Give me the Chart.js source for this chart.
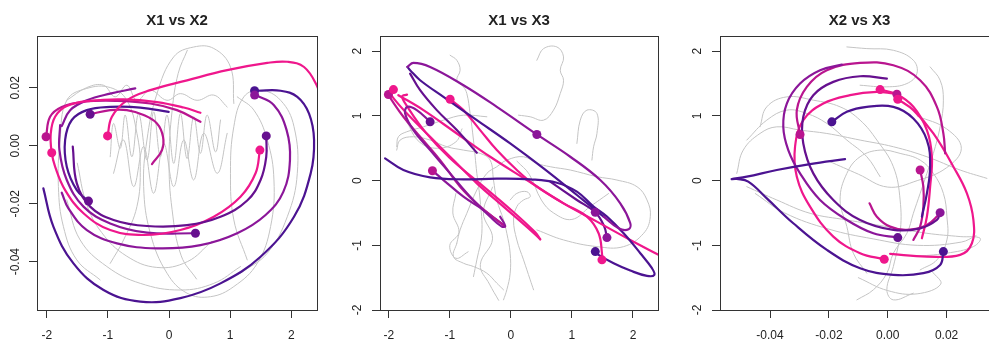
<!DOCTYPE html>
<html>
<head>
<meta charset="utf-8">
<script src="https://cdn.jsdelivr.net/npm/chart.js@4.4.1/dist/chart.umd.min.js"></script>
<style>
  html, body { margin: 0; padding: 0; background: #fff; }
  body { width: 989px; height: 342px; overflow: hidden; position: relative; }
  canvas { position: absolute; top: 0; }
</style>
</head>
<body>
<canvas id="p1" width="343" height="342" style="left:0px"></canvas>
<canvas id="p2" width="343" height="342" style="left:343px"></canvas>
<canvas id="p3" width="343" height="342" style="left:683px"></canvas>
<script>
// tick marks and their labels
const x1Ticks = [-2, -1, 0, 1, 2];
const x1Labels = ['-2', '-1', '0', '1', '2'];
const x2Ticks = [-0.04, -0.02, 0, 0.02];
const x2Labels = ['-0.04', '-0.02', '0.00', '0.02'];
const x3Ticks = [-2, -1, 0, 1, 2];
const x3Labels = ['-2', '-1', '0', '1', '2'];

// ---- X1 vs X2 ----
const p1Indigo = [[-2.055,-0.0147],[-1.891,-0.0279],[-1.563,-0.0406],[-1.071,-0.0498],[-0.470,-0.0538],[0.186,-0.0526],[0.842,-0.0475],[1.497,-0.0383],[2.044,-0.0245],[2.317,-0.0095],[2.372,0.0020],[2.290,0.0111],[2.098,0.0169],[1.825,0.0190],[1.470,0.0190],[1.400,0.0188]];
const p1Purple = [[1.415,0.0175],[1.716,0.0140],[1.923,0.0054],[1.978,-0.0049],[1.869,-0.0159],[1.579,-0.0239],[1.115,-0.0302],[0.514,-0.0343],[-0.197,-0.0354],[-0.852,-0.0337],[-1.344,-0.0291],[-1.645,-0.0216],[-1.754,-0.0162]];
const p1DarkPurple = [[1.590,0.0034],[1.590,-0.0038],[1.497,-0.0118],[1.279,-0.0189],[0.842,-0.0245],[0.295,-0.0274],[-0.361,-0.0277],[-0.907,-0.0256],[-1.290,-0.0210],[-1.508,-0.0130],[-1.574,-0.0003]];
const p1Pink = [[1.486,-0.0015],[1.415,-0.0095],[1.169,-0.0176],[0.732,-0.0245],[0.186,-0.0291],[-0.415,-0.0308],[-0.962,-0.0291],[-1.399,-0.0233],[-1.699,-0.0153],[-1.863,-0.0072],[-1.918,-0.0024],[-1.934,0.0043],[-1.863,0.0100],[-1.672,0.0137],[-1.290,0.0155],[-0.743,0.0160],[-0.197,0.0151],[0.240,0.0132],[0.514,0.0114]];
const p1Magenta = [[-2.011,0.0031],[-1.945,0.0100],[-1.754,0.0134],[-1.399,0.0152],[-0.852,0.0155],[-0.306,0.0146],[0.131,0.0123],[0.514,0.0083]];
const p1Violet = [[-1.781,0.0071],[-1.792,-0.0015],[-1.672,-0.0118],[-1.399,-0.0210],[-0.962,-0.0268],[-0.361,-0.0300],[0.432,-0.0302]];
const p1PinkTop = [[-1.005,0.0034],[-0.934,0.0100],[-0.689,0.0157],[-0.306,0.0192],[0.295,0.0226],[0.951,0.0261],[1.607,0.0286],[1.934,0.0290],[2.208,0.0272],[2.415,0.0209],[2.500,0.0150]];
const p1Hook = [[-0.279,-0.0063],[-0.115,-0.0015],[-0.098,0.0031],[-0.197,0.0077],[-0.415,0.0106],[-0.689,0.0123],[-0.962,0.0123],[-1.290,0.0109]];
const p1Inner = [[-0.005,0.0117],[-0.470,0.0132],[-0.962,0.0134],[-1.344,0.0123],[-1.590,0.0089],[-1.699,0.0020],[-1.672,-0.0072],[-1.508,-0.0153],[-1.317,-0.0191]];
const p1Short = [[-1.754,0.0068],[-1.617,0.0123],[-1.344,0.0157],[-0.962,0.0180],[-0.552,0.0198]];
const p1Dots = [[1.399,0.0190],[1.400,0.0175],[1.590,0.0034],[1.486,-0.0015],[0.432,-0.0302],[-1.317,-0.0191],[-1.290,0.0109],[-2.011,0.0031],[-1.918,-0.0024],[-1.005,0.0034]];
const p1Grey = [
  [[1.060,0.0146],[1.005,0.0272],[0.732,0.0336],[0.404,0.0341],[0.077,0.0307],[-0.197,0.0180],[-0.361,0.0020],[-0.415,-0.0141],[-0.306,-0.0302],[-0.033,-0.0440],[0.295,-0.0509],[0.678,-0.0521],[1.060,-0.0486],[1.443,-0.0406],[1.661,-0.0279],[1.716,-0.0118],[1.607,0.0020],[1.388,0.0123],[1.115,0.0169]],
  [[-1.126,-0.0463],[-1.508,-0.0394],[-1.727,-0.0279],[-1.809,-0.0141],[-1.781,0.0020],[-1.672,0.0157],[-1.344,0.0198],[-0.962,0.0201],[-0.689,0.0157],[-0.525,0.0043],[-0.470,-0.0072],[-0.525,-0.0210],[-0.743,-0.0325],[-0.962,-0.0406]],
  [[-0.962,-0.0038],[-0.907,0.0077],[-0.798,-0.0009],[-0.716,0.0106],[-0.607,-0.0038],[-0.497,0.0111],[-0.361,-0.0049],[-0.251,0.0117],[-0.142,-0.0038],[-0.033,0.0106],[0.077,-0.0061],[0.186,0.0111],[0.295,-0.0044],[0.404,0.0100],[0.514,-0.0026],[0.623,0.0106],[0.760,-0.0021],[0.842,0.0089]],
  [[-1.672,0.0157],[-1.344,0.0201],[-1.071,0.0209],[-0.880,0.0169],[-0.689,0.0209],[-0.525,0.0157],[-0.306,0.0192],[-0.033,0.0157],[0.186,0.0180],[0.459,0.0157],[0.732,0.0175],[0.951,0.0134]],
  [[-0.907,-0.0095],[-0.743,0.0020],[-0.579,-0.0141],[-0.415,-0.0003],[-0.251,-0.0164],[-0.088,0.0008],[0.077,-0.0141],[0.240,0.0020],[0.404,-0.0118],[0.568,0.0043],[0.787,-0.0095],[0.951,0.0043]],
  [[1.169,-0.0440],[1.607,-0.0371],[1.934,-0.0245],[2.098,-0.0095],[2.044,0.0066],[1.825,0.0157],[1.497,0.0192],[1.224,0.0169],[1.060,0.0066],[1.005,-0.0095],[1.060,-0.0256],[1.279,-0.0394]],
  [[-1.672,-0.0187],[-1.454,-0.0325],[-1.016,-0.0417],[-0.470,-0.0475],[0.186,-0.0498],[0.732,-0.0475],[1.169,-0.0417]],
  [[-1.500,-0.0060],[-1.350,-0.0200],[-1.100,-0.0300],[-0.700,-0.0380],[-0.200,-0.0420],[0.300,-0.0400],[0.700,-0.0330]],
  [[0.300,0.0330],[0.150,0.0250],[0.050,0.0120],[0.000,-0.0050],[0.050,-0.0220],[0.200,-0.0380],[0.450,-0.0460]]
];

// ---- X1 vs X3 ----
const p2PurpleLoop = [[-1.694,1.758],[-1.596,1.820],[-1.322,1.758],[-0.776,1.475],[-0.230,1.141],[0.426,0.714],[0.973,0.369],[1.464,0.009],[1.792,-0.351],[1.956,-0.659],[1.929,-0.752],[1.765,-0.737],[1.519,-0.557]];
const p2IndigoLoop = [[1.519,-0.557],[1.082,-0.222],[0.536,0.189],[-0.011,0.575],[-0.557,0.935],[-1.104,1.295],[-1.486,1.552],[-1.650,1.707],[-1.694,1.758]];
const p2DarkLine = [[-1.650,1.655],[-1.486,1.398],[-1.213,1.090],[-0.885,0.781],[-0.557,0.431]];
const p2Indigo = [[-2.060,0.344],[-1.760,0.164],[-1.322,0.050],[-0.776,0.020],[-0.230,0.030],[0.317,0.020],[0.754,-0.032],[1.082,-0.171],[1.355,-0.402],[1.574,-0.557],[1.847,-0.814],[2.120,-1.122],[2.311,-1.354],[2.350,-1.457],[2.230,-1.473],[1.956,-1.390],[1.683,-1.277],[1.437,-1.148],[1.383,-1.097]];
const p2LeftLoop = [[-1.322,0.909],[-1.541,1.090],[-1.694,1.141],[-1.732,1.038],[-1.596,0.781],[-1.322,0.472],[-0.995,0.112],[-0.667,-0.248],[-0.339,-0.557],[-0.148,-0.711],[-0.093,-0.701],[-0.175,-0.557]];
const p2Magenta = [[-2.005,1.331],[-1.951,1.244],[-1.760,0.987],[-1.486,0.678],[-1.158,0.318],[-0.831,-0.094],[-0.503,-0.402],[-0.175,-0.649],[-0.093,-0.711]];
const p2Pink = [[-1.923,1.424],[-1.978,1.372],[-1.896,1.244],[-1.650,0.987],[-1.322,0.678],[-0.940,0.318],[-0.557,-0.042],[-0.120,-0.402],[0.317,-0.762],[0.481,-0.906]];
const p2PinkBack = [[0.481,-0.906],[0.400,-0.800],[0.000,-0.450],[-0.500,-0.050],[-1.000,0.350],[-1.400,0.750],[-1.700,1.150],[-1.780,1.300],[-1.700,1.330]];
const p2PinkLong = [[-1.842,1.321],[-1.432,1.090],[-0.885,0.729],[-0.339,0.369],[0.262,0.009],[0.863,-0.351],[1.410,-0.634],[1.956,-0.917],[2.421,-1.148]];
const p2PinkMid = [[-0.995,1.259],[-0.776,1.090],[-0.503,0.781],[-0.230,0.472],[0.098,0.164],[0.426,-0.094],[0.863,-0.351],[1.246,-0.557],[1.437,-0.814],[1.492,-1.122],[1.492,-1.225]];
const p2Violet = [[-1.284,0.153],[-1.104,0.009],[-0.776,-0.248],[-0.448,-0.454],[-0.230,-0.608],[-0.120,-0.685]];
const p2DarkRight = [[0.645,-0.016],[1.082,-0.299],[1.383,-0.490],[1.530,-0.711],[1.574,-0.881]];
const p2Dots = [[-2.005,1.331],[-1.923,1.408],[-0.995,1.259],[-1.322,0.909],[0.426,0.714],[-1.284,0.153],[1.383,-0.490],[1.574,-0.881],[1.383,-1.097],[1.492,-1.225]];
const p2Grey = [
  [[-0.995,1.938],[-0.885,1.861],[-0.831,1.707],[-0.885,1.552],[-0.776,1.450],[-0.721,1.347],[-0.667,1.038],[-0.612,0.627],[-0.557,0.112],[-0.503,-0.299],[-0.475,-0.814],[-0.557,-1.225],[-0.612,-1.483]],
  [[0.426,1.861],[0.536,2.041],[0.754,2.067],[0.863,1.913],[0.809,1.707],[0.863,1.552],[0.809,1.347],[0.699,1.090],[0.536,0.935],[0.317,0.987],[0.126,1.012]],
  [[1.082,0.575],[1.137,0.935],[1.246,1.090],[1.410,1.038],[1.410,0.729],[1.355,0.524],[1.328,0.318]],
  [[-1.869,0.472],[-1.814,0.627],[-1.596,0.678],[-1.322,0.627],[-1.049,0.524],[-0.776,0.472],[-0.503,0.421],[-0.339,0.318],[-0.284,0.009],[-0.230,-0.299],[-0.120,-0.608],[-0.066,-0.814],[-0.011,-1.122],[-0.011,-1.431],[-0.066,-1.688],[-0.120,-1.843]],
  [[-0.011,-0.299],[0.098,-0.197],[0.262,-0.171],[0.317,-0.248],[0.208,-0.299],[0.098,-0.402],[0.044,-0.608],[0.098,-0.917],[0.208,-1.225],[0.317,-1.534],[0.372,-1.688]],
  [[-0.885,-0.968],[-0.831,-0.762],[-0.721,-0.505],[-0.557,-0.145],[-0.393,0.112],[-0.230,0.215],[-0.066,0.318],[0.208,0.369],[0.426,0.267],[0.645,0.215],[0.973,0.164],[1.410,0.061],[1.738,0.009],[2.066,-0.094],[2.230,-0.299],[2.284,-0.557],[2.175,-0.814],[1.847,-1.020],[1.410,-1.020],[0.863,-0.917],[0.426,-0.762]],
  [[-0.885,-0.968],[-0.940,-1.174],[-0.776,-1.277],[-0.612,-1.328],[-0.393,-1.431],[-0.230,-1.585],[-0.120,-1.688]],
  [[-1.869,0.524],[-1.842,0.678],[-1.705,0.755],[-1.432,0.832],[-1.104,0.935],[-0.776,1.012],[-0.393,0.987]],
  [[-0.900,-0.200],[-0.950,-0.500],[-0.850,-0.800],[-1.000,-1.000],[-0.900,-1.200],[-0.700,-1.100]],
  [[-0.300,-0.100],[-0.450,-0.500],[-0.300,-0.900],[-0.500,-1.300],[-0.350,-1.600],[-0.200,-1.850]],
  [[0.100,0.300],[0.300,0.100],[0.500,-0.300],[0.700,-0.500],[1.000,-0.600],[1.300,-0.400],[1.600,-0.200]],
  [[-1.700,0.900],[-1.500,0.600],[-1.200,0.500],[-0.900,0.600],[-0.800,0.800]]
];

// ---- X2 vs X3 ----
const p3Indigo = [[-0.0145,0.333],[-0.0264,0.256],[-0.0377,0.164],[-0.0479,0.061],[-0.0530,0.025],[-0.0513,0.025],[-0.0474,-0.016],[-0.0411,-0.274],[-0.0321,-0.659],[-0.0207,-1.071],[-0.0094,-1.354],[0.0019,-1.457],[0.0121,-1.431],[0.0178,-1.303],[0.0189,-1.097]];
const p3Purple = [[-0.0156,1.794],[-0.0230,1.707],[-0.0298,1.501],[-0.0343,1.192],[-0.0355,0.832],[-0.0338,0.472],[-0.0298,0.112],[-0.0230,-0.299],[-0.0139,-0.608],[-0.0049,-0.814],[0.0034,-0.881]];
const p3Magenta = [[-0.0298,0.714],[-0.0309,1.090],[-0.0275,1.450],[-0.0207,1.707],[-0.0094,1.820],[0.0019,1.784],[0.0110,1.552],[0.0167,1.141],[0.0189,0.729],[0.0195,0.421]];
const p3DarkPurple = [[-0.0003,1.578],[-0.0094,1.614],[-0.0185,1.527],[-0.0253,1.321],[-0.0287,0.987],[-0.0287,0.575],[-0.0253,0.112],[-0.0185,-0.299],[-0.0094,-0.608],[0.0019,-0.762],[0.0110,-0.737],[0.0167,-0.608],[0.0178,-0.495]];
const p3IndigoInner = [[-0.0190,0.909],[-0.0139,1.064],[-0.0071,1.141],[0.0019,1.141],[0.0087,0.961],[0.0133,0.627],[0.0144,0.215],[0.0133,-0.197],[0.0116,-0.557]];
const p3PinkLeft = [[-0.0012,-1.215],[-0.0094,-1.122],[-0.0185,-0.865],[-0.0264,-0.402],[-0.0309,0.061],[-0.0315,0.524],[-0.0287,0.935],[-0.0219,1.192],[-0.0128,1.321],[-0.0037,1.372],[0.0019,1.347]];
const p3PinkIn = [[-0.0026,1.408],[0.0031,1.336],[0.0087,1.141],[0.0133,0.781],[0.0150,0.369],[0.0144,-0.094],[0.0133,-0.557],[0.0116,-0.891]];
const p3PinkOut = [[0.0034,1.259],[0.0087,1.090],[0.0155,0.729],[0.0223,0.215],[0.0269,-0.197],[0.0291,-0.608],[0.0286,-0.968],[0.0246,-1.148],[0.0133,-1.174],[0.0008,-1.133]];
const p3Drop = [[0.0110,0.164],[0.0121,-0.094],[0.0121,-0.402],[0.0110,-0.711],[0.0087,-0.917]];
const p3Hook = [[-0.0062,-0.351],[-0.0037,-0.557],[0.0008,-0.711],[0.0065,-0.762],[0.0133,-0.685],[0.0178,-0.505]];
const p3Dots = [[-0.0190,0.909],[-0.0298,0.714],[-0.0026,1.408],[0.0031,1.336],[0.0034,1.259],[0.0110,0.164],[0.0178,-0.495],[0.0034,-0.881],[0.0189,-1.097],[-0.0012,-1.215]];
const p3Grey = [
  [[-0.0139,2.067],[-0.0071,2.041],[0.0019,2.015],[0.0087,1.861],[0.0099,1.655],[0.0065,1.501],[-0.0003,1.450],[-0.0094,1.475]],
  [[-0.0513,0.112],[-0.0491,0.472],[-0.0434,0.729],[-0.0377,0.832],[-0.0298,0.781],[-0.0207,0.729],[-0.0094,0.627],[0.0019,0.524],[0.0133,0.369],[0.0246,0.164],[0.0337,0.035]],
  [[-0.0479,-0.094],[-0.0377,-0.299],[-0.0264,-0.505],[-0.0139,-0.608],[-0.0003,-0.711],[0.0133,-0.814],[0.0246,-0.865],[0.0314,-0.891],[0.0291,-1.020],[0.0200,-1.122],[0.0087,-1.174]],
  [[-0.0434,0.832],[-0.0411,1.141],[-0.0343,1.295],[-0.0253,1.244],[-0.0162,1.141],[-0.0094,0.935],[-0.0037,0.627],[0.0019,0.215],[0.0042,-0.299],[0.0042,-0.814],[0.0019,-1.328],[-0.0003,-1.688],[0.0019,-1.843],[0.0087,-1.740]],
  [[-0.0105,-1.843],[-0.0049,-1.688],[-0.0003,-1.431],[0.0019,-1.122],[0.0065,-0.814],[0.0087,-0.505],[0.0110,-0.197],[0.0133,0.112],[0.0155,0.421],[0.0178,0.832],[0.0189,1.244],[0.0178,1.552],[0.0144,1.758]],
  [[-0.0071,-1.431],[-0.0117,-1.122],[-0.0139,-0.711],[-0.0162,-0.299],[-0.0139,0.112],[-0.0094,0.369],[-0.0026,0.472],[0.0042,0.421],[0.0110,0.318],[0.0155,0.112],[0.0189,-0.197],[0.0201,-0.557],[0.0201,-0.917],[0.0167,-1.225],[0.0110,-1.380]],
  [[-0.0479,0.627],[-0.0411,0.935],[-0.0343,1.090],[-0.0275,1.038],[-0.0207,0.884],[-0.0139,0.627],[-0.0071,0.369],[-0.0026,0.061]],
  [[-0.0450,-0.200],[-0.0350,-0.500],[-0.0200,-0.750],[-0.0050,-0.900],[0.0100,-1.000],[0.0250,-0.950],[0.0300,-0.850]],
  [[-0.0100,-1.500],[0.0000,-1.700],[0.0100,-1.750],[0.0180,-1.600],[0.0150,-1.400]],
  [[-0.0200,0.300],[-0.0100,0.100],[0.0000,-0.100],[0.0100,0.000],[0.0200,0.200],[0.0250,0.500],[0.0200,0.800],[0.0100,1.000]]
];

const INDIGO = '#4b1391', DPURPLE = '#66108f', PURPLE = '#8b1699', MAGENTA = '#b9158f', PINK = '#ef178c', GREY = '#c4c4c4';

Chart.defaults.font.family = '"Liberation Sans", Arial, Helvetica, sans-serif';
Chart.defaults.color = '#222';

const boxPlugin = {
  id: 'box',
  afterDatasetsDraw(chart) {
    const a = chart.chartArea, ctx = chart.ctx;
    ctx.save();
    ctx.strokeStyle = '#333';
    ctx.lineWidth = 1;
    ctx.strokeRect(Math.round(a.left) + 0.5, Math.round(a.top) + 0.5, Math.round(a.right - a.left), Math.round(a.bottom - a.top));
    ctx.restore();
  }
};

function line(data, color, width) {
  return { data: data, showLine: true, borderColor: color, borderWidth: width, pointRadius: 0,
           tension: 0.4, borderJoinStyle: 'round', borderCapStyle: 'round' };
}

function panel(id, title, xr, yr, xt, xl, yt, yl, yPad, rightPad, curves, dots, dotColors, greys) {
  const datasets = [{ data: dots, showLine: false, pointRadius: 4.5, pointBorderWidth: 0,
                      pointBackgroundColor: dotColors }];
  curves.forEach(c => datasets.push(line(c[0], c[1], 2.2)));
  greys.forEach(g => datasets.push(line(g, GREY, 1)));
  const axis = (range, ticks, labels) => ({
    type: 'linear', min: range[0], max: range[1],
    afterBuildTicks: s => { s.ticks = ticks.map(v => ({ value: v })); },
    grid: { drawOnChartArea: false, drawTicks: true, tickLength: 8, color: '#333' },
    border: { display: false },
    ticks: { autoSkip: false, font: { size: 12 }, color: '#222', callback: (v, i) => labels[i] }
  });
  const x = axis(xr, xt, xl);
  x.ticks.maxRotation = 0;
  x.ticks.padding = 10;
  x.afterFit = s => { s.height = 32; };
  const y = axis(yr, yt, yl);
  y.ticks.minRotation = 90;
  y.ticks.maxRotation = 90;
  y.ticks.crossAlign = 'center';
  y.ticks.padding = yPad;
  y.afterFit = s => { s.width = 37; };
  new Chart(document.getElementById(id), {
    type: 'scatter',
    data: { datasets: datasets },
    plugins: [boxPlugin],
    options: {
      responsive: false, animation: false, devicePixelRatio: 1,
      layout: { padding: { left: 0, right: rightPad, top: 0, bottom: 0 } },
      plugins: {
        legend: { display: false }, tooltip: { enabled: false },
        title: { display: true, text: title, fullSize: false, color: '#222',
                 font: { size: 15, weight: 'bold', lineHeight: 1.2 }, padding: { top: 12, bottom: 6 } }
      },
      scales: { x: x, y: y }
    }
  });
}

panel('p1', 'X1 vs X2', [-2.159, 2.42], [-0.0567, 0.0379], x1Ticks, x1Labels, x2Ticks, x2Labels, 0, 26,
  [[p1Indigo, INDIGO], [p1Purple, PURPLE], [p1DarkPurple, DPURPLE], [p1Pink, PINK], [p1Magenta, MAGENTA],
   [p1Violet, PURPLE], [p1PinkTop, PINK], [p1Hook, MAGENTA], [p1Inner, INDIGO], [p1Short, PURPLE]],
  p1Dots, [INDIGO, PURPLE, DPURPLE, PINK, DPURPLE, DPURPLE, DPURPLE, MAGENTA, PINK, PINK], p1Grey);

panel('p2', 'X1 vs X3', [-2.143, 2.41], [-2.0, 2.236], x1Ticks, x1Labels, x3Ticks, x3Labels, 9, 28,
  [[p2PurpleLoop, PURPLE], [p2IndigoLoop, INDIGO], [p2DarkLine, DPURPLE], [p2Indigo, INDIGO], [p2LeftLoop, PURPLE],
   [p2Magenta, MAGENTA], [p2Pink, PINK], [p2PinkBack, PINK], [p2PinkLong, PINK], [p2PinkMid, PINK], [p2Violet, PURPLE], [p2DarkRight, DPURPLE]],
  p2Dots, [MAGENTA, PINK, PINK, DPURPLE, PURPLE, MAGENTA, PURPLE, PURPLE, INDIGO, PINK], p2Grey);

panel('p3', 'X2 vs X3', [-0.0570, 0.0378], [-2.0, 2.236], x2Ticks, x2Labels, x3Ticks, x3Labels, 9, 27,
  [[p3Indigo, INDIGO], [p3Purple, PURPLE], [p3Magenta, MAGENTA], [p3DarkPurple, DPURPLE], [p3IndigoInner, INDIGO],
   [p3PinkLeft, PINK], [p3PinkIn, PINK], [p3PinkOut, PINK], [p3Drop, MAGENTA], [p3Hook, MAGENTA]],
  p3Dots, [INDIGO, MAGENTA, PINK, MAGENTA, PINK, MAGENTA, PURPLE, DPURPLE, INDIGO, PINK], p3Grey);
</script>
</body>
</html>
